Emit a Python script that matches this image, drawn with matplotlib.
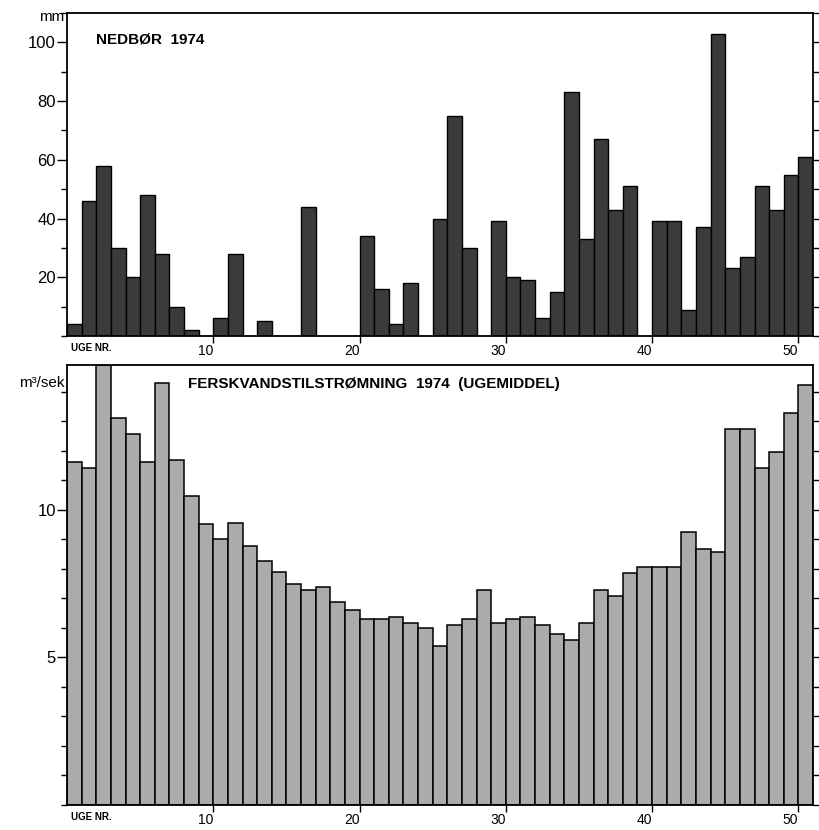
import matplotlib.pyplot as plt
from matplotlib.ticker import MultipleLocator

plt.rcParams['font.family'] = ['Liberation Sans', 'DejaVu Sans']

weeks = list(range(1, 52))
nedbor = [
    4, 46, 58, 30, 20, 48, 28, 10, 2, 0,
    6, 28, 0, 5, 0, 0, 44, 0, 0, 0,
    34, 16, 4, 18, 0, 40, 75, 30, 0, 39,
    20, 19, 6, 15, 83, 33, 67, 43, 51, 0,
    39, 39, 9, 37, 103, 23, 27, 51, 43, 55,
    61,
]
tilstromning = [
    11.6, 11.4, 14.9, 13.1, 12.55, 11.6, 14.3, 11.7, 10.45, 9.5,
    9.0, 9.55, 8.77, 8.27, 7.9, 7.47, 7.28, 7.37, 6.88, 6.6,
    6.3, 6.3, 6.38, 6.17, 6.0, 5.4, 6.1, 6.29, 7.28, 6.17,
    6.29, 6.38, 6.1, 5.78, 5.59, 6.17, 7.28, 7.08, 7.87, 8.07,
    8.07, 8.07, 9.25, 8.67, 8.56, 12.75, 12.75, 11.4, 11.96, 13.26,
    14.24,
]
week_ticks = [10, 20, 30, 40, 50]

fig = plt.figure(figsize=(8.19, 8.30), dpi=100, facecolor='white')
ax1 = fig.add_axes([0.0818, 0.5952, 0.9109, 0.3891])
ax2 = fig.add_axes([0.0818, 0.0301, 0.9109, 0.5301])

# bar for week n covers [n-1, n], so tick 10 sits at the right edge of week 10
x_left = [w - 1 for w in weeks]
ax1.bar(x_left, nedbor, width=1.0, align='edge', color='#3b3b3b',
        edgecolor='black', linewidth=1.0)
ax2.bar(x_left, tilstromning, width=1.0, align='edge', color='#ababab',
        edgecolor='black', linewidth=1.1)

ax1.set_ylim(0, 110)
ax2.set_ylim(0, 14.9)
for ax in (ax1, ax2):
    ax.set_xlim(0, 51)
    ax.set_xticks(week_ticks)
    ax.set_xticklabels([str(t) for t in week_ticks])
    for lbl in ax.get_xticklabels():
        lbl.set_horizontalalignment('right')
    ax.tick_params(axis='x', direction='out', length=5, width=1.0,
                   labelsize=10, pad=1, colors='black')
    ax.tick_params(axis='y', which='both', direction='out', right=True,
                   width=1.0, labelsize=12, pad=1, colors='black')
    ax.tick_params(axis='y', which='major', length=7)
    ax.tick_params(axis='y', which='minor', length=4)
    for spine in ax.spines.values():
        spine.set_linewidth(1.3)
        spine.set_color('black')
    ax.text(0.006, -0.022 if ax is ax1 else -0.016, 'UGE NR.',
            transform=ax.transAxes, fontsize=7, fontweight='bold',
            va='top', ha='left')

ax1.set_yticks([20, 40, 60, 80, 100])
ax1.yaxis.set_minor_locator(MultipleLocator(10))
ax2.set_yticks([5, 10])
ax2.yaxis.set_minor_locator(MultipleLocator(1))

ax1.text(2.0, 101, 'NEDBØR  1974', fontsize=11, fontweight='bold',
         va='center', ha='left')
ax2.text(8.3, 14.25, 'FERSKVANDSTILSTRØMNING  1974  (UGEMIDDEL)',
         fontsize=11, fontweight='bold', va='center', ha='left')

fig.text(0.079, 0.979, 'mm', fontsize=11, ha='right', va='center')
fig.text(0.079, 0.539, 'm³/sek', fontsize=11, ha='right', va='center')

fig.savefig('out.png', dpi=100, facecolor='white')
